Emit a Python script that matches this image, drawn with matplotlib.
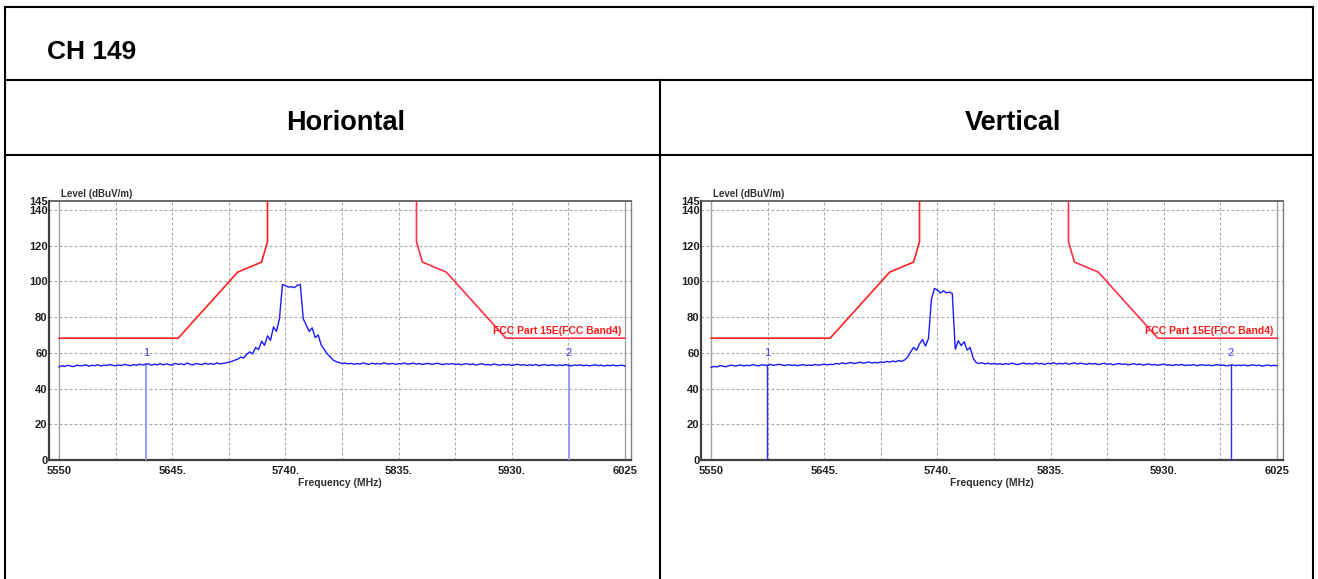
import numpy as np
import matplotlib
matplotlib.use('Agg')
import matplotlib.pyplot as plt
from matplotlib.lines import Line2D

plt.rcParams['font.family'] = ['Liberation Sans', 'DejaVu Sans']

##################################################################################################################################
# data
##################################################################################################################################

channelTitle = 'CH 149'
columnTitles = ['Horiontal', 'Vertical']

xTickValues = [5550, 5645, 5740, 5835, 5930, 6025]
xTickLabels = ['5550', '5645.', '5740.', '5835.', '5930.', '6025']
xGridValues = [5597.5, 5645, 5692.5, 5740, 5787.5, 5835, 5882.5, 5930, 5977.5]
yTickValues = [0, 20, 40, 60, 80, 100, 120, 140, 145]

# sweep points, 2.5 MHz apart
sweepFreq = np.linspace(5550, 6025, 191)

horizontalLevel = [
    52.1, 52.8, 52.4, 53.0, 52.6, 52.3, 53.1, 52.7, 52.9, 53.3,
    52.5, 53.0, 52.8, 53.4, 52.6, 53.1, 52.9, 53.5, 53.0, 52.7,
    53.2, 52.9, 53.6, 53.1, 52.8, 53.4, 53.0, 53.7, 53.2, 53.5,
    53.9, 53.1, 53.6, 53.3, 54.0, 53.2, 53.8, 53.4, 53.1, 54.1,
    53.5, 53.9, 53.3, 54.3, 53.6, 53.2, 54.0, 53.7, 53.4, 54.2,
    53.6, 54.0, 53.5, 54.4, 53.8, 54.1,
    54.3, 54.8, 55.2, 55.9, 56.4, 57.6, 57.1, 59.2, 60.5, 59.4,
    63.0, 61.8, 66.5, 64.2, 69.5, 67.0, 74.5, 72.0, 79.0, 98.2,
    97.6, 96.8, 97.0, 96.5, 97.8, 98.3, 79.0, 75.5, 72.0, 74.0,
    68.5, 70.0, 64.5, 62.0, 59.5, 57.8, 56.0, 55.1, 54.6, 54.0,
    54.3,
    53.8, 54.1, 53.6, 54.0, 53.7, 54.3, 53.9, 53.5, 54.2, 53.8,
    54.0, 53.6, 54.4, 53.9, 53.7, 54.1, 53.5, 54.0, 53.8, 54.3,
    53.6, 53.9, 54.2, 53.7, 54.0, 53.5, 53.9, 54.1, 53.6, 53.8,
    54.2, 53.7, 53.4, 53.9, 53.6, 54.0, 53.5, 53.8, 53.3, 53.7,
    53.9, 53.4, 53.8, 53.2, 53.6, 53.9, 53.3, 53.5, 53.1, 53.7,
    53.4, 53.0, 53.6, 53.2, 53.5, 52.9, 53.3, 53.6, 53.1, 53.4,
    52.9, 53.3, 53.0, 53.5, 52.8, 53.2, 53.4, 52.9, 53.1, 53.3,
    52.8, 53.2, 52.9, 53.4, 53.0, 52.7, 53.2, 52.9, 53.3, 52.8,
    53.1, 52.7, 53.0, 53.3, 52.8, 53.1, 52.6, 53.0, 52.8, 53.2,
    52.7, 52.9, 53.1, 52.6]

verticalLevel = [
    51.8, 52.4, 52.1, 52.9, 52.5, 52.2, 52.8, 53.1, 52.6, 52.9,
    53.2, 52.7, 53.0, 52.8, 53.4, 53.0, 52.7, 53.3, 53.1, 52.9,
    53.5, 53.0, 53.3, 53.6, 53.1, 52.9, 53.4, 53.0, 53.2, 52.8,
    53.1, 53.4, 52.9, 53.2, 53.0, 53.5, 53.1, 53.3, 53.7, 53.2,
    53.6, 53.4, 54.1, 53.7, 54.4, 53.9, 54.2, 54.6, 54.0, 54.3,
    54.8, 54.2, 54.5, 54.9, 54.3, 54.6,
    54.4, 54.9, 54.6, 55.2, 54.8, 55.4, 55.0, 55.6, 55.3, 56.0,
    57.5, 60.5, 63.0, 61.5, 65.0, 67.5, 63.8, 68.0, 90.0, 96.0,
    95.2, 93.5, 94.8, 93.6, 94.0, 93.2, 62.0, 66.8, 64.0, 66.2,
    61.5, 63.0, 57.0, 54.6, 54.0, 54.4, 53.8, 54.2, 53.7, 54.1,
    53.6,
    53.9, 53.5, 54.0, 53.6, 54.2, 53.8, 53.4, 53.9, 54.3, 53.7,
    54.0, 53.6, 54.4, 53.8, 54.1, 53.5, 54.2, 53.9, 54.5, 53.7,
    54.1, 53.8, 54.3, 53.6, 54.0, 54.4, 53.7, 54.2, 53.9, 53.5,
    54.1, 53.7, 54.0, 53.4, 53.8, 54.2, 53.6, 53.9, 53.3, 53.7,
    54.0, 53.5, 53.8, 53.2, 53.6, 53.9, 53.4, 53.7, 53.1, 53.5,
    53.8, 53.2, 53.5, 53.0, 53.4, 53.7, 53.1, 53.3, 52.9, 53.4,
    53.1, 53.5, 52.9, 53.2, 53.0, 53.4, 52.8, 53.1, 53.3, 52.9,
    53.2, 52.8, 53.1, 53.4, 52.9, 53.2, 52.7, 53.0, 53.3, 52.8,
    53.1, 52.9, 53.2, 52.7, 53.0, 53.3, 52.8, 53.1, 52.6, 52.9,
    53.2, 52.7, 53.0, 52.8]

# FCC Part 15E band 4 limit, lower and upper edge
limitLowFreq = [5550, 5650, 5700, 5720, 5725, 5725]
limitLowLevel = [68.2, 68.2, 105.2, 110.8, 122.2, 150]
limitHighFreq = [5850, 5850, 5855, 5875, 5925, 6025]
limitHighLevel = [150, 122.2, 110.8, 105.2, 68.2, 68.2]
limitName = 'FCC Part 15E(FCC Band4)'

horizontalMarkers = [5623, 5978]
verticalMarkers = [5597, 5986]

##################################################################################################################################
# layout helpers (pixels of the 1318x579 picture)
##################################################################################################################################

W, H = 1318, 579

def fx(px):
    return px / W

def fy(py):
    return 1 - py / H

def TableLine(fig, x0, y0, x1, y1):
    fig.add_artist(Line2D([fx(x0), fx(x1)], [fy(y0), fy(y1)], color='black', lw=1.5,
                          transform=fig.transFigure))

##################################################################################################################################
#
##################################################################################################################################

def DrawSpectrum(ax, level, markers, markerColor, markerWidth):
    pxPerMHz = 566 / 475
    ax.set_xlim(5550 - 10 / pxPerMHz, 6025 + 6 / pxPerMHz)
    ax.set_ylim(0, 145)

    ax.set_xticks(xTickValues)
    ax.set_xticklabels(xTickLabels, fontsize=8, fontweight='bold', color='#202020')
    ax.set_xticks(xGridValues, minor=True)
    ax.set_yticks(yTickValues)
    ax.set_yticklabels([str(v) for v in yTickValues], fontsize=8, fontweight='bold', color='#202020')
    ax.tick_params(which='both', length=0)
    ax.tick_params(axis='x', pad=4.5)
    ax.tick_params(axis='y', pad=1)

    ax.grid(False)
    for g in xGridValues:
        ax.axvline(g, color='#a8a8a8', lw=0.8, ls=(0, (2.5, 2)), zorder=1)
    for g in yTickValues[1:-1]:
        ax.axhline(g, color='#a8a8a8', lw=0.8, ls=(0, (2.5, 2)), zorder=1)
    ax.axvline(5550, color='#a0a0a0', lw=1, zorder=1)
    ax.axvline(6025, color='#a0a0a0', lw=1, zorder=1)

    for side, col, w in [('left', '#404040', 1.6), ('bottom', '#404040', 1.6),
                         ('top', '#505050', 1.2), ('right', '#808080', 1.0)]:
        ax.spines[side].set_color(col)
        ax.spines[side].set_linewidth(w)

    # limit line
    ax.plot(limitLowFreq, limitLowLevel, color='#ff2020', lw=1.2, zorder=3)
    ax.plot(limitHighFreq, limitHighLevel, color='#ff3048', lw=1.2, zorder=3)
    ax.text(6022, 69.5, limitName, color='#ff1a1a', fontsize=7.5, fontweight='bold',
            ha='right', va='bottom', zorder=4)

    # measured trace
    ax.plot(sweepFreq, level, color='#1a1aff', lw=1.0, zorder=4)

    # markers
    for n, m in enumerate(markers):
        top = np.interp(m, sweepFreq, level)
        ax.plot([m, m], [0, top], color=markerColor, lw=markerWidth, zorder=3)
        ax.text(m, 57, str(n + 1), color='#3a3aff', fontsize=8, ha='center', va='bottom', zorder=4)

    ax.text(5552, 146, 'Level (dBuV/m)', fontsize=7, fontweight='bold', color='#303030',
            ha='left', va='bottom')
    ax.set_xlabel('Frequency (MHz)', fontsize=7.5, fontweight='bold', color='#303030', labelpad=1)


fig = plt.figure(figsize=(W / 100, H / 100), dpi=100)

# table frame
TableLine(fig, 5, 7, 1313, 7)
TableLine(fig, 5, 7, 5, 579)
TableLine(fig, 1313, 7, 1313, 579)
TableLine(fig, 5, 80, 1313, 80)
TableLine(fig, 5, 155, 1313, 155)
TableLine(fig, 660, 80, 660, 579)

fig.text(fx(47), fy(52), channelTitle, fontsize=19, fontweight='bold', ha='left', va='center')
fig.text(fx(346), fy(123), columnTitles[0], fontsize=19.5, fontweight='bold', ha='center', va='center')
fig.text(fx(1013), fy(123), columnTitles[1], fontsize=19.5, fontweight='bold', ha='center', va='center')

axH = fig.add_axes([fx(49), fy(460), (631 - 49) / W, (460 - 201) / H])
DrawSpectrum(axH, horizontalLevel, horizontalMarkers, '#9a9aff', 1.4)

axV = fig.add_axes([fx(701), fy(460), (1283 - 701) / W, (460 - 201) / H])
DrawSpectrum(axV, verticalLevel, verticalMarkers, '#2a2aff', 1.0)

plt.savefig('out.png', dpi=100)
plt.close(fig)
